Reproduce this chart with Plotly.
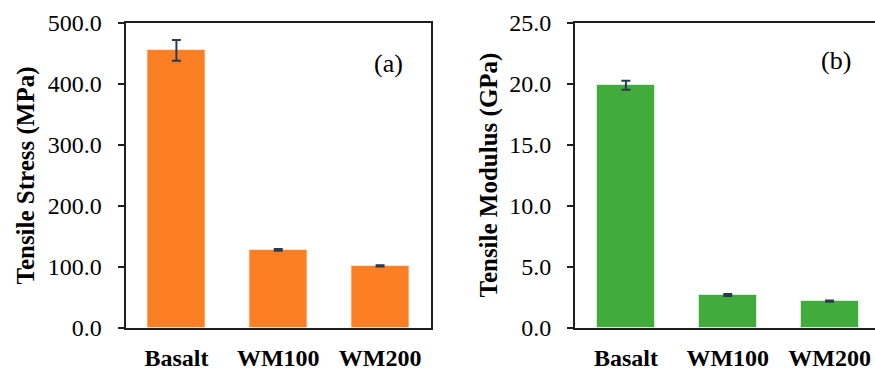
import plotly.graph_objects as go

categories = ["Basalt", "WM100", "WM200"]
stress = [455.0, 128.0, 102.0]
stress_err = [17.0, 1.5, 1.0]
modulus = [19.9, 2.7, 2.2]
modulus_err = [0.37, 0.08, 0.05]
stress_ticks = [0, 100, 200, 300, 400, 500]
modulus_ticks = [0, 5, 10, 15, 20, 25]

W, H = 875, 370
ORANGE = "#FD7F23"
GREEN = "#41AB3B"
ERR = "#2B3A4E"
AX = "#1f1f1f"
SERIF = "Liberation Serif, Times New Roman, serif"


def px(x):
    return x / W


def py(y):
    return 1 - y / H


fig = go.Figure()
fig.add_trace(go.Bar(
    x=categories, y=stress, xaxis="x", yaxis="y", width=0.57,
    marker=dict(color=ORANGE, line=dict(color="rgba(255,235,220,0.8)", width=1)),
    error_y=dict(type="data", array=stress_err, visible=True, color=ERR, thickness=2, width=4.5),
    showlegend=False))
fig.add_trace(go.Bar(
    x=categories, y=modulus, xaxis="x2", yaxis="y2", width=0.57,
    marker=dict(color=GREEN, line=dict(color="rgba(225,245,225,0.8)", width=1)),
    error_y=dict(type="data", array=modulus_err, visible=True, color=ERR, thickness=2, width=4.5),
    showlegend=False))

ydom = [py(328), py(23)]
step = (431 - 125.5) / 3

xcommon = dict(showline=True, linecolor=AX, linewidth=2, mirror=True, ticks="",
               tickfont=dict(family=SERIF, size=24, color="black", weight="bold"),
               ticklabelstandoff=7, showgrid=False, zeroline=False, fixedrange=True,
               automargin=False)
ycommon = dict(showline=True, linecolor=AX, linewidth=2, ticks="outside", ticklen=6,
               tickwidth=2, tickcolor=AX, ticklabelstandoff=11,
               tickfont=dict(family=SERIF, size=24, color="black"),
               showgrid=False, zeroline=False, fixedrange=True, automargin=False)

fig.update_layout(
    width=W, height=H, margin=dict(l=0, r=0, t=0, b=0, pad=0),
    paper_bgcolor="white", plot_bgcolor="white", bargap=0,
    xaxis=dict(domain=[px(125.5), px(431)], range=[-0.5, 2.5], anchor="y", **xcommon),
    yaxis=dict(domain=ydom, range=[0, 500], tickvals=stress_ticks,
               ticktext=[f"{v:.1f}" for v in stress_ticks], anchor="x", mirror=True, **ycommon),
    xaxis2=dict(domain=[px(575), 1.0], range=[-0.5, -0.5 + (875 - 575) / step], anchor="y2", **xcommon),
    yaxis2=dict(domain=ydom, range=[0, 25], tickvals=modulus_ticks,
                ticktext=[f"{v:.1f}" for v in modulus_ticks], anchor="x2", mirror=False, **ycommon),
)


def ann(text, x, y, size, bold=False, angle=0):
    fig.add_annotation(text=text, x=px(x), y=py(y), xref="paper", yref="paper",
                       showarrow=False, textangle=angle, xanchor="center", yanchor="middle",
                       font=dict(family=SERIF, size=size, color="black",
                                 weight="bold" if bold else "normal"))


ann("Tensile Stress (MPa)", 26, 175.5, 25, bold=True, angle=-90)
ann("Tensile Modulus (GPa)", 489, 175.5, 25, bold=True, angle=-90)
ann("(a)", 388, 63, 26)
ann("(b)", 836, 61, 26)

fig.write_html(
    "out.html",
    config={"displayModeBar": False},
    post_script="document.body.style.margin='0';document.body.style.overflow='hidden';",
)
